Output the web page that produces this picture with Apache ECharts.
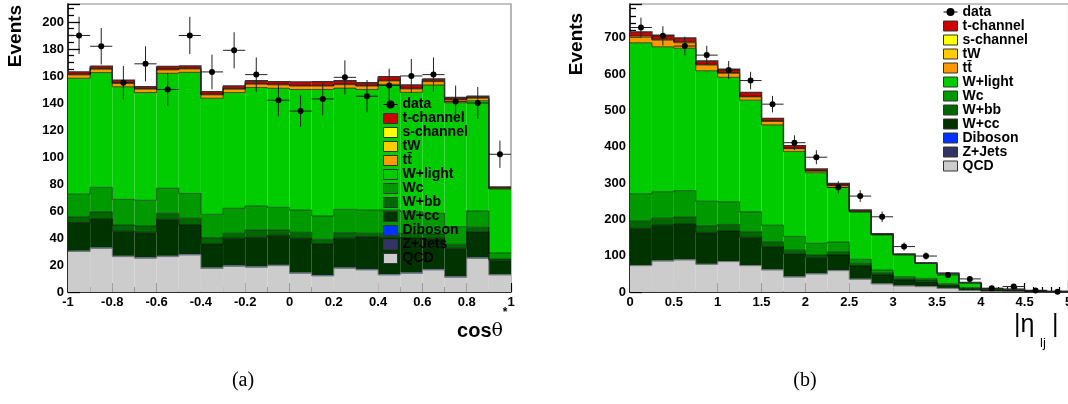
<!DOCTYPE html>
<html><head><meta charset="utf-8">
<script src="https://cdn.jsdelivr.net/npm/echarts@6/dist/echarts.min.js"></script>
<style>html,body{margin:0;padding:0;background:#fff}#c{width:1068px;height:404px}</style>
</head><body><div id="c"></div>
<script>
const FONT = '"Liberation Sans", Arial, Helvetica, sans-serif';
// stack order, bottom to top
const LAYER_NAMES = ['QCD','Z+Jets','Diboson','W+cc','W+bb','Wc','W+light','tt\u0304','tW','s-channel','t-channel'];
const LAYER_COLORS = ['#cccccc','#333366','#0033ff','#003300','#006600','#009900','#00cc00','#ff9900','#ffcc00','#ffff00','#cc0000'];

// ---------- panel (a): cos theta* (20 bins, -1..1) ----------
const binsA = ['-0.95','-0.85','-0.75','-0.65','-0.55','-0.45','-0.35','-0.25','-0.15','-0.05','0.05','0.15','0.25','0.35','0.45','0.55','0.65','0.75','0.85','0.95'];
const qcdA   = [30,32.3,26.2,25,26.2,27.4,17.5,19,18.3,19.5,13.8,11.9,17.5,16.3,12.6,13.8,16.3,10.9,24.9,12.6];
const zjetsA = [0.3,0.3,0.3,0.3,0.3,0.3,0.3,0.3,0.3,0.3,0.3,0.3,0.3,0.3,0.3,0.3,0.3,0.3,0.3,0.2];
const dibA   = [0.3,0.3,0.3,0.3,0.3,0.3,0.3,0.3,0.3,0.3,0.3,0.3,0.3,0.3,0.3,0.3,0.3,0.3,0.3,0.2];
const wccA   = [20.9,21.1,18.2,18.6,27,21.6,17.5,20.2,21.6,21.9,25.4,23.1,21.7,24.1,27.3,25.6,22.9,20.8,19.2,10.5];
const wbbA   = [4,5.3,4.6,4.7,4.5,5,4.4,3.7,5.5,4,4.4,3.4,4.2,2.5,3,3.5,3.2,3,3.2,1];
const wcA    = [17,18.2,19,19,18.5,18.4,17.5,18.5,17.7,16.7,16.5,17.3,17.2,17.2,17.2,16,15.3,13.1,12.1,4.4];
const wlightA= [85.8,85,83.4,79.8,85.2,89.7,86,85.7,87.7,88.2,89.3,93.7,89.8,89.3,93.1,88.4,95,91.8,81.7,47.4];
const ttA    = [2.5,2.5,2.5,2.5,2.5,2.5,2.5,2.5,2.5,2.5,2.5,2.5,2.5,2.5,2.5,2.5,2.5,2,1.8,0.7];
const twA    = [0.4,0.4,0.4,0.4,0.4,0.4,0.4,0.4,0.4,0.4,0.4,0.4,0.4,0.4,0.4,0.4,0.4,0.4,0.4,0.1];
const schA   = [0.2,0.2,0.2,0.2,0.2,0.2,0.2,0.2,0.2,0.2,0.2,0.2,0.2,0.2,0.2,0.2,0.2,0.2,0.2,0.1];
const tchA   = [1.6,1.6,1.7,1.2,1.9,1.6,1.8,1.8,2,1.8,2.5,2.7,2.4,1.9,2.6,2.3,1.4,1.2,0.9,0.6];
const dataA  = [190,182,155,169,150,190,163,179,161,142,134,143,159,145,153,160,161,141,140,102];
const errA   = [13.8,13.5,12.4,13,12.2,13.8,12.8,13.4,12.7,11.9,11.6,12,12.6,12,12.4,12.6,12.7,11.9,11.8,10.1];
const xTicksA = {min:-1, max:1, interval:0.2, minor:4};
const yTicksA = {min:0, max:213.3, interval:20, minor:4};

// ---------- panel (b): |eta_lj| (20 bins, 0..5) ----------
const binsB = ['0.125','0.375','0.625','0.875','1.125','1.375','1.625','1.875','2.125','2.375','2.625','2.875','3.125','3.375','3.625','3.875','4.125','4.375','4.625','4.875'];
const qcdB   = [72.5,85,88,76,83.5,72.5,60.5,41,49.5,58.7,34.9,22,16.5,14.7,10,4,2,2,1,0.5];
const zjetsB = [0.8,0.8,0.8,0.8,0.8,0.8,0.8,0.8,0.8,0.8,0.8,0.6,0.6,0.3,0.2,0.1,0.05,0.05,0.03,0.03];
const dibB   = [0.6,0.6,0.6,0.6,0.6,0.6,0.6,0.6,0.6,0.6,0.6,0.4,0.4,0.3,0.2,0.1,0.05,0.05,0.02,0.02];
const wccB   = [101.1,97.6,97.6,86.6,83.1,76.6,63.1,62.6,44.5,41.7,35.3,23.8,15.5,12.7,7.6,3.8,1.9,0.9,0.45,0.25];
const wbbB   = [20,19,20,18.5,18,15.5,13.5,10,6.4,9.2,7.3,6.4,4.6,5,2,2,1,1,0.5,0.2];
const wcB    = [75,73,72,67.5,62,55,45.5,38,32.2,26.6,11.1,7.3,4.6,4.6,3,2,1,1,0.5,0.2];
const wlightB= [416,399,392,359,343,307,276,234,194.4,150.4,130,96.5,59.6,41.4,28,13.4,3,2,1.2,0.3];
const ttB    = [15,18,15,15.5,11,9,9.5,7.5,4.5,5.5,2.5,1.4,1.4,0.5,0.3,0.2,0.15,0.15,0.08,0.08];
const twB    = [3,2,2,2,1.5,1.5,1.5,1.2,0.8,0.7,0.4,0.2,0.2,0.05,0.05,0.02,0.02,0.02,0.01,0.01];
const schB   = [1,1,1,0.5,0.5,0.5,0.3,0.3,0.2,0.2,0.1,0.1,0.1,0.03,0.03,0.01,0.01,0.01,0.01,0.01];
const tchB   = [11,11,10,9,9,10.5,6.7,7,4.5,4.6,2.7,1.8,1.1,0.42,0.4,0.35,0.3,0.3,0.2,0.1];
const dataB  = [728,705,677,652,611,582,517,411,371,288,264,207,125,99,47,36,10,15,4,1];
const errB   = [27,26.6,26,25.5,24.7,24.1,22.7,20.3,19.3,17,16.2,14.4,11.2,9.9,6.9,6,3.2,3.9,2,1];
const xTicksB = {min:0, max:5, interval:0.5, minor:5};
const yTicksB = {min:0, max:792.7, interval:100, minor:5};

const layersA = [qcdA,zjetsA,dibA,wccA,wbbA,wcA,wlightA,ttA,twA,schA,tchA];
const layersB = [qcdB,zjetsB,dibB,wccB,wbbB,wcB,wlightB,ttB,twB,schB,tchB];

// outlines drawn on top of these layer boundaries
const OUTLINE_LAYERS = [0,3,4,5,6,7,8,9,10];
const OUTLINE_COLORS = {0:'#777777',3:'rgba(0,0,0,0.6)',4:'rgba(0,0,0,0.5)',5:'rgba(0,0,0,0.5)',6:'rgba(0,0,0,0.6)',7:'rgba(0,0,0,0.6)',8:'rgba(0,0,0,0.5)',9:'rgba(0,0,0,0.5)',10:'#333333'};

function valueAxisX(grid, t) {
  return {type:'value', gridIndex:grid, position:'bottom', min:t.min, max:t.max, interval:t.interval,
    axisLine:{show:true, onZero:false, lineStyle:{color:'#000', width:1.5}},
    axisTick:{show:true, inside:true, length:9, lineStyle:{color:'#000', width:1.2}},
    minorTick:{show:true, splitNumber:t.minor, length:5, lineStyle:{color:'#000', width:1.2}},
    splitLine:{show:false}, minorSplitLine:{show:false},
    axisLabel:{color:'#000', fontFamily:FONT, fontWeight:'bold', fontSize:13, margin:4, hideOverlap:false}};
}
function valueAxisY(grid, t) {
  return {type:'value', gridIndex:grid, min:t.min, max:t.max, interval:t.interval,
    axisLine:{show:true, onZero:false, lineStyle:{color:'#000', width:1.5}},
    axisTick:{show:true, inside:true, length:12, lineStyle:{color:'#000', width:1.3}},
    minorTick:{show:true, splitNumber:t.minor, length:6, lineStyle:{color:'#000', width:1.3}},
    splitLine:{show:false}, minorSplitLine:{show:false},
    axisLabel:{color:'#000', fontFamily:FONT, fontWeight:'bold', fontSize:13, margin:4, showMaxLabel:false}};
}
function catAxis(grid, bins) {
  return {type:'category', gridIndex:grid, position:'top', data:bins, boundaryGap:true, show:false};
}

function cumulative(layers) {
  const out = []; let run = layers[0].map(() => 0);
  layers.forEach(arr => { run = run.map((v, i) => v + arr[i]); out.push(run.slice()); });
  return out;
}

function panelSeries(layers, data, err, xCat, yIdx, stack) {
  const s = [];
  layers.forEach((arr, k) => {
    s.push({type:'bar', name:LAYER_NAMES[k], stack:stack, xAxisIndex:xCat, yAxisIndex:yIdx, data:arr,
      barCategoryGap:'0%', itemStyle:{color:LAYER_COLORS[k], borderWidth:0}, emphasis:{disabled:true}, z:2, silent:true});
  });
  const cum = cumulative(layers);
  const n = data.length;
  s.push({type:'custom', xAxisIndex:xCat, yAxisIndex:yIdx, z:3, silent:true,
    data: cum[10].map((v, i) => [i, v]),
    encode:{x:0, y:1},
    renderItem: function(params, api) {
      const i = params.dataIndex;
      const hw = api.size([1, 0])[0] / 2;
      const children = [];
      OUTLINE_LAYERS.forEach(k => {
        const p = api.coord([i, cum[k][i]]);
        const pts = [[p[0] - hw, p[1]], [p[0] + hw, p[1]]];
        if (i < n - 1) pts.push([p[0] + hw, api.coord([i + 1, cum[k][i + 1]])[1]]);
        children.push({type:'polyline', shape:{points:pts},
          style:{stroke:OUTLINE_COLORS[k], lineWidth:k === 10 ? 1.4 : 1, fill:null}});
      });
      return {type:'group', children:children};
    }});
  s.push({type:'custom', xAxisIndex:xCat, yAxisIndex:yIdx, z:5, silent:true,
    data: data.map((v, i) => [i, v, err[i]]),
    encode:{x:0, y:1},
    renderItem: function(params, api) {
      const i = api.value(0), v = api.value(1), e = api.value(2);
      const hw = api.size([1, 0])[0] / 2;
      const c = api.coord([i, v]);
      const top = api.coord([i, v + e]);
      const bot = api.coord([i, Math.max(0, v - e)]);
      const st = {stroke:'#222', lineWidth:1};
      return {type:'group', children:[
        {type:'line', shape:{x1:c[0], y1:top[1], x2:c[0], y2:bot[1]}, style:st},
        {type:'line', shape:{x1:c[0] - hw, y1:c[1], x2:c[0] + hw, y2:c[1]}, style:st}
      ]};
    }});
  s.push({type:'line', name:'data', xAxisIndex:xCat, yAxisIndex:yIdx, data:data, z:6, silent:true,
    symbol:'circle', symbolSize:6, showSymbol:true, lineStyle:{opacity:0, width:0},
    itemStyle:{color:'#000'}, emphasis:{disabled:true}});
  return s;
}

const legendData = [{name:'data', lineStyle:{color:'#000', width:1, opacity:1}, itemStyle:{color:'#000'}}]
  .concat(LAYER_NAMES.slice().reverse().map(nm => ({name:nm, icon:'rect', itemStyle:{borderColor:'#333', borderWidth:1}})));
function legendAt(left, top) {
  return {orient:'vertical', left:left, top:top, itemWidth:14, itemHeight:10, itemGap:0, padding:0,
    selectedMode:false, data:legendData,
    textStyle:{color:'#000', fontFamily:FONT, fontWeight:'bold', fontSize:14, lineHeight:13}};
}

const option = {
  animation:false,
  backgroundColor:'#fff',
  grid:[
    {left:68, top:4, width:443, height:288, show:true, borderColor:'#888', borderWidth:1.2, backgroundColor:'transparent', containLabel:false, outerBoundsMode:'none'},
    {left:630, top:4, width:438.5, height:288, show:true, borderColor:'#888', borderWidth:1.2, backgroundColor:'transparent', containLabel:false, outerBoundsMode:'none'}
  ],
  xAxis:[catAxis(0, binsA), valueAxisX(0, xTicksA), catAxis(1, binsB), valueAxisX(1, xTicksB)],
  yAxis:[valueAxisY(0, yTicksA), valueAxisY(1, yTicksB)],
  legend:[legendAt(383, 97.5), legendAt(943, 5)],
  series: panelSeries(layersA, dataA, errA, 0, 0, 'a').concat(panelSeries(layersB, dataB, errB, 2, 1, 'b')),
  graphic:[
    {type:'text', x:16, y:36, rotation:Math.PI/2, style:{text:'Events', fontFamily:FONT, fontWeight:'bold', fontSize:19, fill:'#000', align:'center', verticalAlign:'middle'}},
    {type:'text', x:577, y:44, rotation:Math.PI/2, style:{text:'Events', fontFamily:FONT, fontWeight:'bold', fontSize:19, fill:'#000', align:'center', verticalAlign:'middle'}},
    {type:'text', x:503, y:331, style:{text:'{c|cos}{t|\u03b8}', align:'right', verticalAlign:'middle',
      rich:{c:{fontFamily:FONT, fontWeight:'bold', fontSize:20, fill:'#000'}, t:{fontFamily:'"DejaVu Serif", serif', fontSize:19, fill:'#000'}}}},
    {type:'text', x:505, y:313, style:{text:'*', fontFamily:FONT, fontWeight:'bold', fontSize:12, fill:'#000', align:'center', verticalAlign:'middle'}},
    {type:'text', x:1014, y:325, style:{text:'|\u03b7', fontFamily:FONT, fontSize:25, fill:'#000', align:'left', verticalAlign:'middle'}},
    {type:'text', x:1040, y:343, style:{text:'lj', fontFamily:FONT, fontSize:13, fill:'#000', align:'left', verticalAlign:'middle'}},
    {type:'text', x:1052, y:325, style:{text:'|', fontFamily:FONT, fontSize:25, fill:'#000', align:'left', verticalAlign:'middle'}},
    {type:'text', x:243, y:381, style:{text:'(a)', fontFamily:'"Liberation Serif", "Times New Roman", serif', fontSize:20, fill:'#000', align:'center', verticalAlign:'middle'}},
    {type:'text', x:805, y:381, style:{text:'(b)', fontFamily:'"Liberation Serif", "Times New Roman", serif', fontSize:20, fill:'#000', align:'center', verticalAlign:'middle'}}
  ]
};
const chart = echarts.init(document.getElementById('c'), null, {renderer:'canvas'});
chart.setOption(option);
</script>
</body></html>
